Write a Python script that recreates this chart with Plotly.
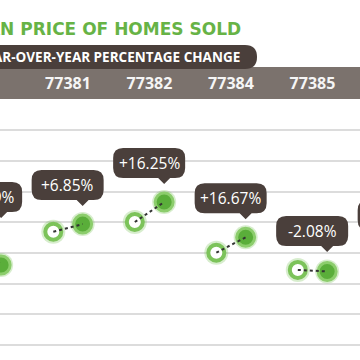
import plotly.graph_objects as go

# ---------------- data ----------------
zips = ["77380", "77381", "77382", "77384", "77385", "77386"]
price_prev = [177.5, 184.4, 200.3, 150.3, 122.3, 148.0]   # median price, $K (earlier year)
price_curr = [130.3, 197.0, 232.8, 175.4, 119.8, 141.0]   # median price, $K (later year)
pct_labels = ["-26.59%", "+6.85%", "+16.25%", "+16.67%", "-2.08%", "-4.73%"]
grid_vals = [0, 50, 100, 150, 200, 250, 300, 350]

title_text = "MEDIAN PRICE OF HOMES SOLD"
subtitle_text = "YEAR-OVER-YEAR PERCENTAGE CHANGE"

# ---------------- styling / layout constants ----------------
W = H = 360
GREEN_TITLE = "#67b346"
DARK = "#4a3f3b"
BAND = "#7b726d"
GRID = "#dcdcdc"
RING = "#7cc35a"
FILL = "#5aae3a"
OFF = 0.18            # horizontal offset of the two points around the column centre
ZIP_ROW_Y = 423       # data-y level of the header row of zip codes
X_RANGE = [0.166, 4.583]
Y_RANGE = [-24.4, 561.9]


def px2paper(x, y):
    return x / W, 1 - y / H


def paper_path(cmds):
    out = []
    for c in cmds:
        if isinstance(c, str):
            out.append(c)
        else:
            px, py = px2paper(*c)
            out.append(f"{px:.5f},{py:.5f}")
    return " ".join(out)


idx = list(range(len(zips)))
x_prev = [i - OFF for i in idx]
x_curr = [i + OFF for i in idx]
anchor = [max(a, b) for a, b in zip(price_prev, price_curr)]

fig = go.Figure()

# halos
fig.add_trace(go.Scatter(x=x_prev + x_curr, y=price_prev + price_curr, mode="markers",
                         marker=dict(size=24, color="rgba(124,195,90,0.30)", line=dict(width=0)),
                         cliponaxis=False, hoverinfo="skip", showlegend=False))
# earlier year: open rings
fig.add_trace(go.Scatter(x=x_prev, y=price_prev, mode="markers",
                         marker=dict(size=16, color="white", line=dict(color=RING, width=4)),
                         cliponaxis=False, showlegend=False))
# later year: filled
fig.add_trace(go.Scatter(x=x_curr, y=price_curr, mode="markers",
                         marker=dict(size=18, color=FILL, line=dict(color="#8ccd6c", width=3)),
                         cliponaxis=False, showlegend=False))
# dotted connectors
lx, ly = [], []
for a, b, ya, yb in zip(x_prev, x_curr, price_prev, price_curr):
    lx += [a, b, None]
    ly += [ya, yb, None]
fig.add_trace(go.Scatter(x=lx, y=ly, mode="lines",
                         line=dict(color="#333333", width=2, dash="dot"),
                         cliponaxis=False, showlegend=False, hoverinfo="skip"))
# zip code header labels
fig.add_trace(go.Scatter(x=idx, y=[ZIP_ROW_Y] * len(zips), mode="text", text=zips,
                         textfont=dict(family="Open Sans", size=16, color="#f5f5f5", weight="bold"),
                         cliponaxis=False, showlegend=False, hoverinfo="skip"))

shapes = []
# grey header band
b0 = px2paper(0, 99)
b1 = px2paper(360, 67)
shapes.append(dict(type="rect", xref="paper", yref="paper", x0=-0.01, x1=1.01, y0=b0[1], y1=b1[1],
                   fillcolor=BAND, line=dict(width=0), layer="below"))
# dark pill
pill = paper_path(["M", (-30, 45), "L", (245, 45), "Q", (257, 45), (257, 57),
                   "Q", (257, 69), (245, 69), "L", (-30, 69), "Z"])
shapes.append(dict(type="path", xref="paper", yref="paper", path=pill,
                   fillcolor=DARK, line=dict(width=0), layer="below"))

# callouts (pixel-sized, anchored at the data point)
L, R, B, T, r, tip = -51, 21, 24, 54, 10, 18
callout = (f"M 0,{tip} L 6,{B} L {R-r},{B} Q {R},{B} {R},{B+r} L {R},{T-r} Q {R},{T} {R-r},{T} "
           f"L {L+r},{T} Q {L},{T} {L},{T-r} L {L},{B+r} Q {L},{B} {L+r},{B} L -6,{B} Z")
for xc, ya in zip(x_curr, anchor):
    shapes.append(dict(type="path", xref="x", yref="y", xsizemode="pixel", ysizemode="pixel",
                       xanchor=xc, yanchor=ya, path=callout,
                       fillcolor=DARK, line=dict(width=0), layer="above"))

annotations = []
for xc, ya, lab in zip(x_curr, anchor, pct_labels):
    annotations.append(dict(x=xc, y=ya, xref="x", yref="y", text=lab, showarrow=False,
                            xshift=-15, yshift=39,
                            font=dict(family="Open Sans", size=15.5, color="white")))

tx, ty = px2paper(243, 29)
annotations.append(dict(x=tx, y=ty, xref="paper", yref="paper", xanchor="right", yanchor="middle",
                        text=title_text, showarrow=False,
                        font=dict(family="DejaVu Sans", size=17, color=GREEN_TITLE, weight="bold")))
sx, sy = px2paper(242, 57)
annotations.append(dict(x=sx, y=sy, xref="paper", yref="paper", xanchor="right", yanchor="middle",
                        text=subtitle_text, showarrow=False,
                        font=dict(family="Open Sans", size=13.5, color="white", weight="bold")))

fig.update_layout(
    width=W, height=H, margin=dict(l=0, r=0, t=0, b=0),
    paper_bgcolor="white", plot_bgcolor="white",
    shapes=shapes, annotations=annotations, showlegend=False,
    xaxis=dict(range=X_RANGE, showgrid=False, zeroline=False, showticklabels=False, ticks=""),
    yaxis=dict(range=Y_RANGE, tickvals=grid_vals, showgrid=True, gridcolor=GRID, gridwidth=2,
               zeroline=False, showticklabels=False, ticks=""),
)

fig.write_html("out.html", config={"displayModeBar": False},
               post_script="document.body.style.margin='0';document.body.style.overflow='hidden';")
